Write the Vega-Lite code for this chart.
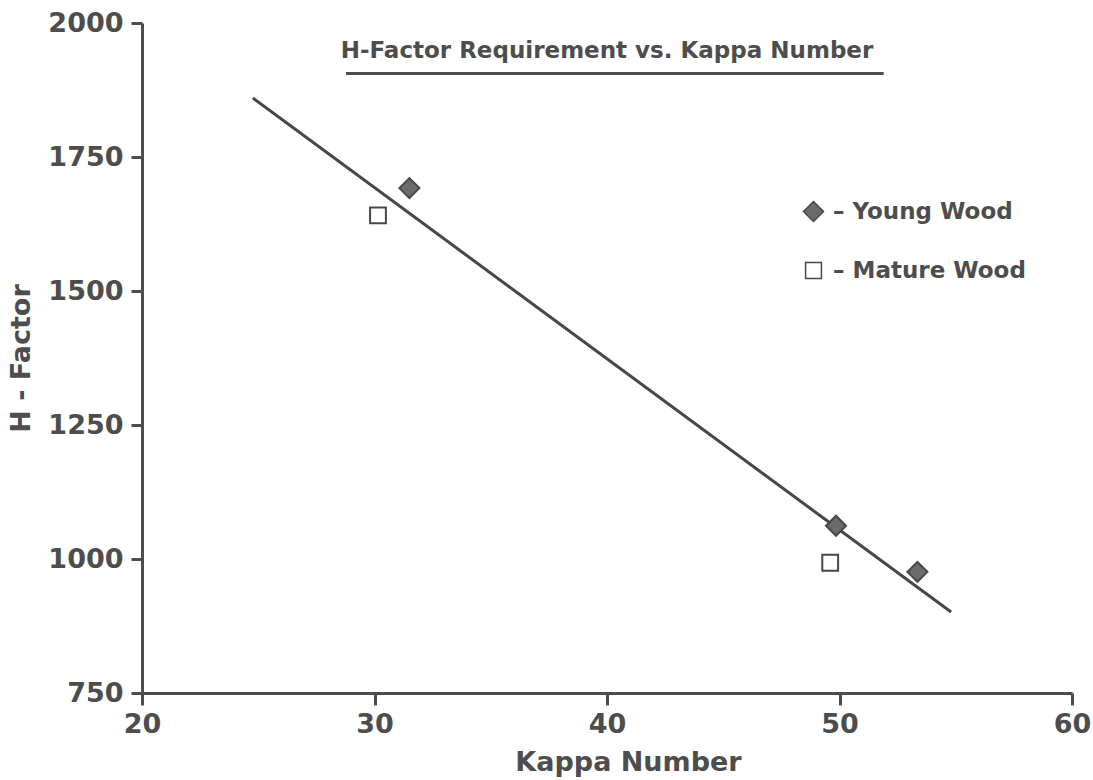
{
  "$schema": "https://vega.github.io/schema/vega-lite/v6.json",
  "width": 930,
  "height": 670,
  "autosize": {"type": "none"},
  "padding": {"left": 142, "top": 23, "right": 21, "bottom": 87},
  "background": "white",
  "config": {
    "font": "DejaVu Sans",
    "view": {"stroke": null},
    "axis": {
      "grid": false,
      "labelFont": "DejaVu Sans",
      "labelFontWeight": "bold",
      "labelFontSize": 27,
      "labelColor": "#4d4d4d",
      "titleFont": "DejaVu Sans",
      "titleFontWeight": "bold",
      "titleFontSize": 27,
      "titleColor": "#4d4d4d",
      "domainColor": "#4d4d4d",
      "domainWidth": 3,
      "tickColor": "#4d4d4d",
      "tickWidth": 3,
      "labelFlush": false,
      "labelOverlap": false,
      "format": "d"
    },
    "legend": {
      "title": null,
      "orient": "none",
      "legendX": 660,
      "legendY": 177,
      "labelFont": "DejaVu Sans",
      "labelFontWeight": "bold",
      "labelFontSize": 23,
      "labelColor": "#4d4d4d",
      "labelLimit": 0,
      "rowPadding": 34,
      "labelOffset": 8
    }
  },
  "datasets": {
    "points": [
      {"kappa": 31.5, "hfactor": 1692, "wood": "Young Wood"},
      {"kappa": 49.85, "hfactor": 1062, "wood": "Young Wood"},
      {"kappa": 53.35, "hfactor": 976, "wood": "Young Wood"},
      {"kappa": 30.15, "hfactor": 1641, "wood": "Mature Wood"},
      {"kappa": 49.6, "hfactor": 993, "wood": "Mature Wood"}
    ],
    "fit": [
      {"kappa": 24.77, "hfactor": 1860},
      {"kappa": 54.8, "hfactor": 901}
    ],
    "underline": [
      {"x1": 28.77, "x2": 51.9, "y": 1906}
    ]
  },
  "title": {
    "text": "H-Factor Requirement vs. Kappa Number",
    "font": "DejaVu Sans",
    "fontWeight": "bold",
    "fontSize": 23,
    "color": "#4d4d4d",
    "anchor": "middle",
    "frame": "group",
    "baseline": "middle",
    "offset": -65
  },
  "layer": [
    {
      "data": {"name": "underline"},
      "mark": {"type": "rule", "color": "#4d4d4d", "strokeWidth": 3},
      "encoding": {
        "x": {"field": "x1", "type": "quantitative", "scale": {"domain": [20, 60], "nice": false, "zero": false}},
        "x2": {"field": "x2"},
        "y": {"field": "y", "type": "quantitative", "scale": {"domain": [750, 2000], "nice": false, "zero": false}}
      }
    },
    {
      "data": {"name": "fit"},
      "mark": {"type": "line", "color": "#474747", "strokeWidth": 3},
      "encoding": {
        "x": {"field": "kappa", "type": "quantitative"},
        "y": {"field": "hfactor", "type": "quantitative"}
      }
    },
    {
      "data": {"name": "points"},
      "mark": {"type": "point", "filled": true, "stroke": "#474747", "strokeWidth": 2, "opacity": 1},
      "encoding": {
        "x": {
          "field": "kappa",
          "type": "quantitative",
          "scale": {"domain": [20, 60], "nice": false, "zero": false},
          "axis": {"title": "Kappa Number", "values": [20, 30, 40, 50, 60], "tickSize": 12, "labelPadding": 6, "titlePadding": 12, "titleX": 486}
        },
        "y": {
          "field": "hfactor",
          "type": "quantitative",
          "scale": {"domain": [750, 2000], "nice": false, "zero": false},
          "axis": {"title": "H - Factor", "values": [750, 1000, 1250, 1500, 1750, 2000], "tickSize": 11, "labelPadding": 8, "titlePadding": 12}
        },
        "shape": {
          "field": "wood",
          "type": "nominal",
          "scale": {"domain": ["Young Wood", "Mature Wood"], "range": ["diamond", "square"]},
          "legend": {"labelExpr": "'– ' + datum.label", "encode": {"symbols": {"update": {"stroke": {"value": "#474747"}, "strokeWidth": {"value": 2}}}}}
        },
        "fill": {
          "field": "wood",
          "type": "nominal",
          "scale": {"domain": ["Young Wood", "Mature Wood"], "range": ["#6b6b6b", "#ffffff"]},
          "legend": {"labelExpr": "'– ' + datum.label", "encode": {"symbols": {"update": {"stroke": {"value": "#474747"}, "strokeWidth": {"value": 2}}}}}
        },
        "size": {
          "field": "wood",
          "type": "nominal",
          "scale": {"domain": ["Young Wood", "Mature Wood"], "range": [400, 250]},
          "legend": {"labelExpr": "'– ' + datum.label", "encode": {"symbols": {"update": {"stroke": {"value": "#474747"}, "strokeWidth": {"value": 2}}}}}
        }
      }
    }
  ]
}
